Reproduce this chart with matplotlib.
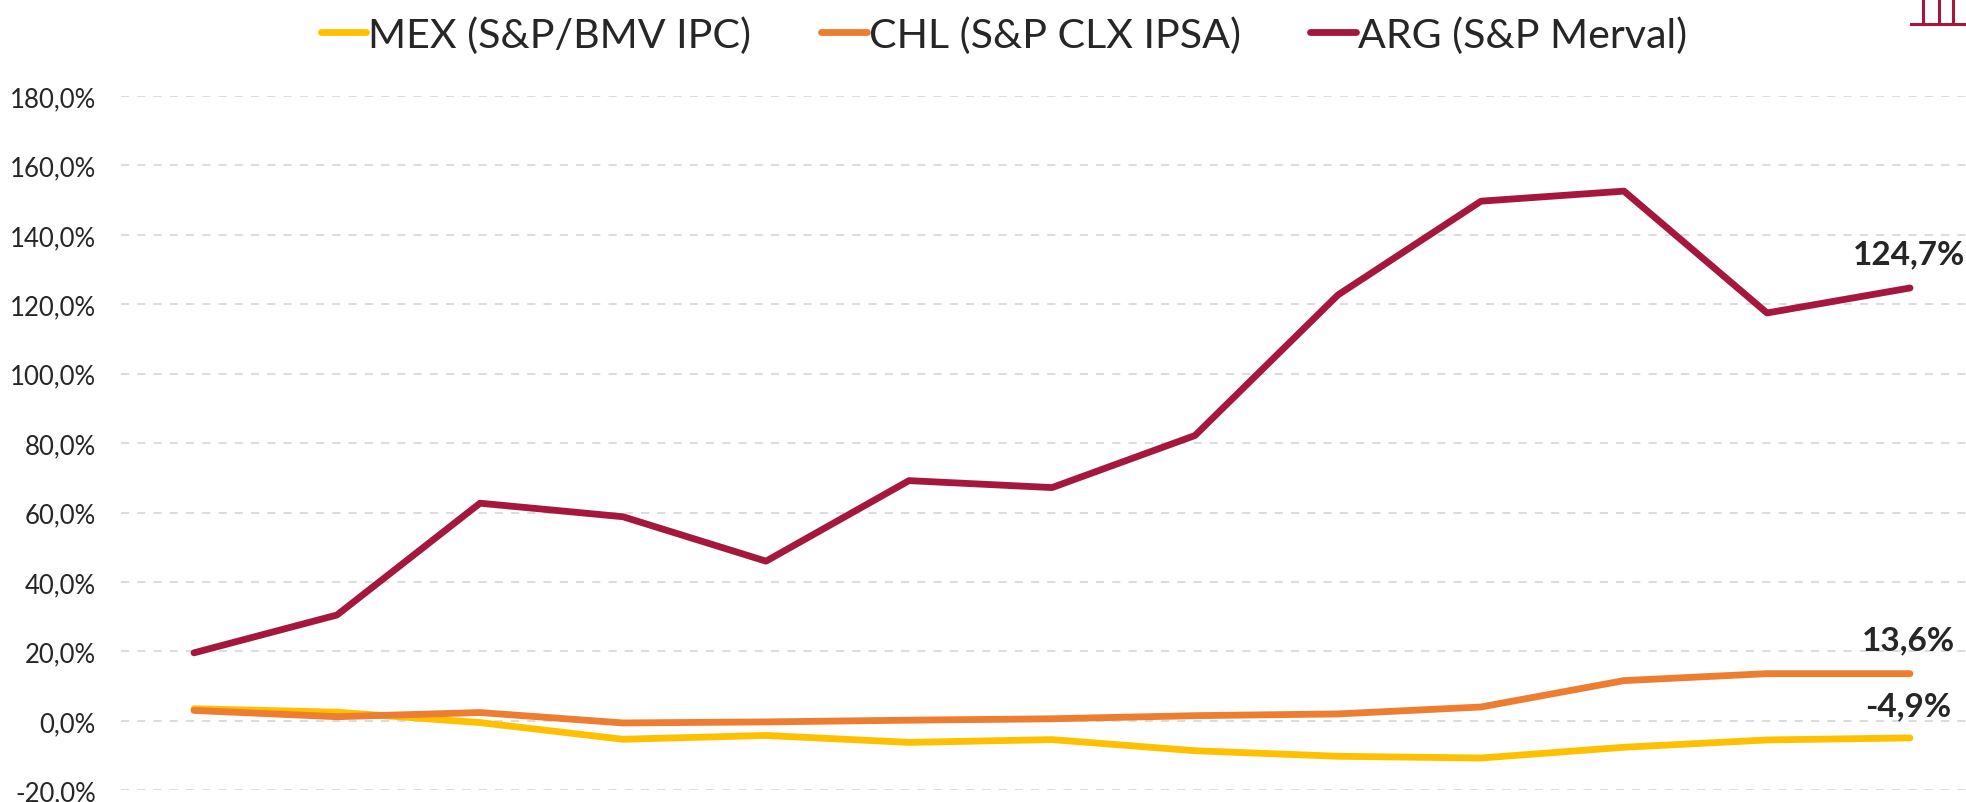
import matplotlib
matplotlib.use('Agg')
import matplotlib.pyplot as plt
from matplotlib.lines import Line2D

# datos (%)
points = list(range(13))
mex = [3.5, 2.5, -0.5, -5.3, -4.2, -6.2, -5.4, -8.6, -10.2, -10.7, -7.6, -5.5, -4.9]
chl = [3.0, 1.2, 2.4, -0.6, -0.3, 0.2, 0.6, 1.5, 2.0, 4.0, 11.6, 13.6, 13.6]
arg = [19.6, 30.5, 62.7, 58.8, 46.0, 69.2, 67.2, 82.2, 122.7, 149.7, 152.6, 117.5, 124.7]
labels = ['MEX (S&P/BMV IPC)', 'CHL (S&P CLX IPSA)', 'ARG (S&P Merval)']
last_labels = ['-4,9%', '13,6%', '124,7%']
yticks = list(range(-20, 181, 20))

W, H = 1966, 803
plt.rcParams['font.family'] = ['Lato', 'DejaVu Sans']
text_col = '#262626'
colors = ['#FFC000', '#ED7D31', '#A6173D']

fig = plt.figure(figsize=(W / 100, H / 100), dpi=100)
# el eje sigue mas alla del borde derecho, como en el original
ax = fig.add_axes([121 / W, 1 - 791.3 / H, (W - 121) / W, (791.3 - 97) / H])

step = 143.0
ax.set_xlim(-(194 - 121) / step, (W - 194) / step)
ax.set_ylim(-20, 180)

lines = []
for y, c, lab in zip([mex, chl, arg], colors, labels):
    l, = ax.plot(points, y, color=c, lw=4.9, label=lab, solid_capstyle='round',
                 solid_joinstyle='round', zorder=3)
    lines.append(l)

ax.set_yticks(yticks)
ax.set_yticklabels(['{:.1f}%'.format(v).replace('.', ',') for v in yticks],
                   fontsize=18.5, color=text_col)
ax.set_xticks([])
ax.tick_params(axis='y', length=0, pad=18)
ax.grid(axis='y', color='#D9D9D9', lw=1.3, dashes=(4.5, 4.5))
ax.set_axisbelow(True)
for s in ax.spines.values():
    s.set_visible(False)
for lbl in ax.get_yticklabels():
    lbl.set_clip_on(False)

# etiquetas del ultimo punto
for y, txt, off in zip([mex[-1], chl[-1], arg[-1]], last_labels, [13, 14, 14]):
    ax.annotate(txt, (points[-1], y), xytext=(-1, off), textcoords='offset points',
                ha='center', va='bottom', fontsize=24,
                fontweight='bold', color=text_col, annotation_clip=False)

fig.legend(handles=lines, loc='center', bbox_to_anchor=(1004 / W, 1 - 36 / H), ncol=3,
           frameon=False, fontsize=29.6, labelcolor=text_col, handlelength=1.1,
           handletextpad=0.05, columnspacing=1.7)

# trozo del logo cortado arriba a la derecha
logo = '#A6173D'
fig.add_artist(Line2D([1911 / W, 1], [1 - 24.5 / H] * 2, color=logo, lw=2.2))
for px in [1923, 1939, 1953]:
    fig.add_artist(Line2D([px / W] * 2, [1 - 24.5 / H, 1], color=logo, lw=2.2))

fig.savefig('out.png', dpi=100)
